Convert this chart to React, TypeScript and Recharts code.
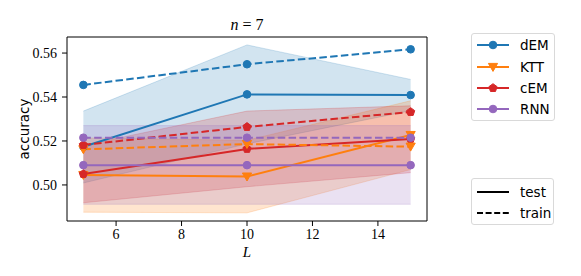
import React from 'react';
import { ComposedChart, Line, Area, XAxis, YAxis, ReferenceLine } from 'recharts';

const L = [5, 10, 15];

const demTest = [0.5174, 0.5412, 0.5409];
const demTrain = [0.5455, 0.5549, 0.5617];
const demLo = [0.5009, 0.5187, 0.5338];
const demHi = [0.5336, 0.5637, 0.548];

const kttTest = [0.5045, 0.5038, 0.5227];
const kttTrain = [0.5162, 0.5186, 0.5174];
const kttLo = [0.4876, 0.4873, 0.507];
const kttHi = [0.5214, 0.5203, 0.5383];

const cemTest = [0.505, 0.5164, 0.5209];
const cemTrain = [0.5182, 0.5264, 0.5332];
const cemLo = [0.4919, 0.4992, 0.5056];
const cemHi = [0.518, 0.5336, 0.536];

const rnnTest = [0.509, 0.509, 0.509];
const rnnTrain = [0.5215, 0.5215, 0.5215];
const rnnLo = [0.4912, 0.4912, 0.4912];
const rnnHi = [0.527, 0.527, 0.527];

const xTicks = [6, 8, 10, 12, 14];
const yTicks = [0.5, 0.52, 0.54, 0.56];
const X_DOMAIN = [4.5, 15.5];
const Y_DOMAIN = [0.4836, 0.5673];

const BLUE = '#1f77b4';
const ORANGE = '#ff7f0e';
const RED = '#d62728';
const PURPLE = '#9467bd';

const rows = L.map((l, i) => ({
    L: l,
    demTest: demTest[i],
    demTrain: demTrain[i],
    demBand: [demLo[i], demHi[i]],
    kttTest: kttTest[i],
    kttTrain: kttTrain[i],
    kttBand: [kttLo[i], kttHi[i]],
    cemTest: cemTest[i],
    cemTrain: cemTrain[i],
    cemBand: [cemLo[i], cemHi[i]],
    rnnTest: rnnTest[i],
    rnnTrain: rnnTrain[i],
    rnnBand: [rnnLo[i], rnnHi[i]],
}));

type Shape = 'circle' | 'tri' | 'pent';

function markerEl(shape: Shape, cx: number, cy: number, color: string, key?: any) {
    if (shape === 'circle') return <circle key={key} cx={cx} cy={cy} r={3.8} fill={color} stroke={color} />;
    if (shape === 'tri') {
        const pts = `${cx - 4.6},${cy - 3.6} ${cx + 4.6},${cy - 3.6} ${cx},${cy + 4.4}`;
        return <polygon key={key} points={pts} fill={color} stroke={color} />;
    }
    const pts = [0, 1, 2, 3, 4]
        .map((k) => {
            const a = (-90 + 72 * k) * (Math.PI / 180);
            return `${cx + 4.3 * Math.cos(a)},${cy + 4.3 * Math.sin(a)}`;
        })
        .join(' ');
    return <polygon key={key} points={pts} fill={color} stroke={color} />;
}

const dotFor = (shape: Shape, color: string) => (p: any) => markerEl(shape, p.cx, p.cy, color, p.index);

const series = [
    { name: 'dEM', color: BLUE, shape: 'circle' as Shape, key: 'dem' },
    { name: 'KTT', color: ORANGE, shape: 'tri' as Shape, key: 'ktt' },
    { name: 'cEM', color: RED, shape: 'pent' as Shape, key: 'cem' },
    { name: 'RNN', color: PURPLE, shape: 'circle' as Shape, key: 'rnn' },
];

const legendFont = '"DejaVu Sans", sans-serif';
const serif = '"Liberation Serif", serif';

// tick labels drawn by hand so the serif font sticks
const XTick = (p: any) => (
    <text x={p.x} y={p.y + 10} textAnchor="middle" fill="#000" style={{ fontFamily: serif, fontSize: 14 }}>
        {p.payload.value}
    </text>
);
const YTick = (p: any) => (
    <text x={p.x - 1} y={p.y + 5} textAnchor="end" fill="#000" style={{ fontFamily: serif, fontSize: 14 }}>
        {Number(p.payload.value).toFixed(2)}
    </text>
);

export default function App() {
    return (
        <div style={{ position: 'absolute', left: 0, top: 0, width: 581, height: 276, background: '#fff' }}>
            <ComposedChart width={581} height={276} data={rows} margin={{ top: 37, right: 154, bottom: 0, left: 0 }}>
                <XAxis
                    dataKey="L"
                    type="number"
                    domain={X_DOMAIN}
                    ticks={xTicks}
                    height={55}
                    tickSize={5}
                    tickMargin={3}
                    axisLine={{ stroke: '#000', strokeWidth: 1 }}
                    tickLine={{ stroke: '#000' }}
                    tick={<XTick />}
                    allowDataOverflow
                />
                <YAxis
                    type="number"
                    domain={Y_DOMAIN}
                    ticks={yTicks}
                    width={67}
                    tickSize={5}
                    tickMargin={4}
                    axisLine={{ stroke: '#000', strokeWidth: 1 }}
                    tickLine={{ stroke: '#000' }}
                    tick={<YTick />}
                    allowDataOverflow
                />
                {series.map((s) => (
                    <Area
                        key={s.key + 'Band'}
                        dataKey={s.key + 'Band'}
                        type="linear"
                        fill={s.color}
                        fillOpacity={0.2}
                        stroke={s.color}
                        strokeOpacity={0.2}
                        strokeWidth={1}
                        dot={false}
                        activeDot={false}
                        isAnimationActive={false}
                    />
                ))}
                {series.map((s) => (
                    <Line
                        key={s.key + 'Test'}
                        dataKey={s.key + 'Test'}
                        type="linear"
                        stroke={s.color}
                        strokeWidth={2}
                        dot={dotFor(s.shape, s.color)}
                        activeDot={false}
                        isAnimationActive={false}
                    />
                ))}
                {series.map((s) => (
                    <Line
                        key={s.key + 'Train'}
                        dataKey={s.key + 'Train'}
                        type="linear"
                        stroke={s.color}
                        strokeWidth={2}
                        strokeDasharray="7.5 3.3"
                        dot={dotFor(s.shape, s.color)}
                        activeDot={false}
                        isAnimationActive={false}
                    />
                ))}
                <ReferenceLine y={Y_DOMAIN[1]} stroke="#000" strokeWidth={1} />
                <ReferenceLine x={X_DOMAIN[1]} stroke="#000" strokeWidth={1} />
            </ComposedChart>

            {/* title and axis labels */}
            <div style={{ position: 'absolute', left: 197, width: 100, top: 15, textAlign: 'center', fontFamily: serif, fontSize: 16, lineHeight: '20px' }}>
                <i>n</i> = 7
            </div>
            <div style={{ position: 'absolute', left: 197, width: 100, top: 243, textAlign: 'center', fontFamily: serif, fontSize: 15, lineHeight: '18px' }}>
                <i>L</i>
            </div>
            <div
                style={{
                    position: 'absolute',
                    left: 24,
                    top: 129,
                    transform: 'translate(-50%, -50%) rotate(-90deg)',
                    fontFamily: legendFont,
                    fontSize: 13.5,
                    whiteSpace: 'nowrap',
                }}
            >
                accuracy
            </div>

            {/* method legend */}
            <div
                style={{
                    position: 'absolute',
                    left: 471,
                    top: 33,
                    width: 84,
                    height: 88,
                    border: '1px solid #d9d9d9',
                    borderRadius: 3,
                    boxSizing: 'border-box',
                }}
            >
                {series.map((s, i) => (
                    <div key={s.key} style={{ position: 'absolute', left: 0, top: 11.3 + i * 21.3 - 10, height: 20, width: 84 }}>
                        <svg width={40} height={20} style={{ position: 'absolute', left: 4, top: 0 }}>
                            <line x1={1} y1={10} x2={33} y2={10} stroke={s.color} strokeWidth={2} />
                            {markerEl(s.shape, 17, 10, s.color)}
                        </svg>
                        <span style={{ position: 'absolute', left: 48, top: 1, fontFamily: legendFont, fontSize: 13.5, lineHeight: '18px' }}>{s.name}</span>
                    </div>
                ))}
            </div>

            {/* line style legend */}
            <div
                style={{
                    position: 'absolute',
                    left: 471,
                    top: 178,
                    width: 83,
                    height: 47,
                    border: '1px solid #d9d9d9',
                    borderRadius: 3,
                    boxSizing: 'border-box',
                }}
            >
                {['test', 'train'].map((t, i) => (
                    <div key={t} style={{ position: 'absolute', left: 0, top: 12.7 + i * 21.6 - 10, height: 20, width: 83 }}>
                        <svg width={40} height={20} style={{ position: 'absolute', left: 4, top: 0 }}>
                            <line x1={1} y1={10} x2={33} y2={10} stroke="#000" strokeWidth={2} strokeDasharray={i ? '6 2.6' : undefined} />
                        </svg>
                        <span style={{ position: 'absolute', left: 48, top: 1, fontFamily: legendFont, fontSize: 13.5, lineHeight: '18px' }}>{t}</span>
                    </div>
                ))}
            </div>
        </div>
    );
}
